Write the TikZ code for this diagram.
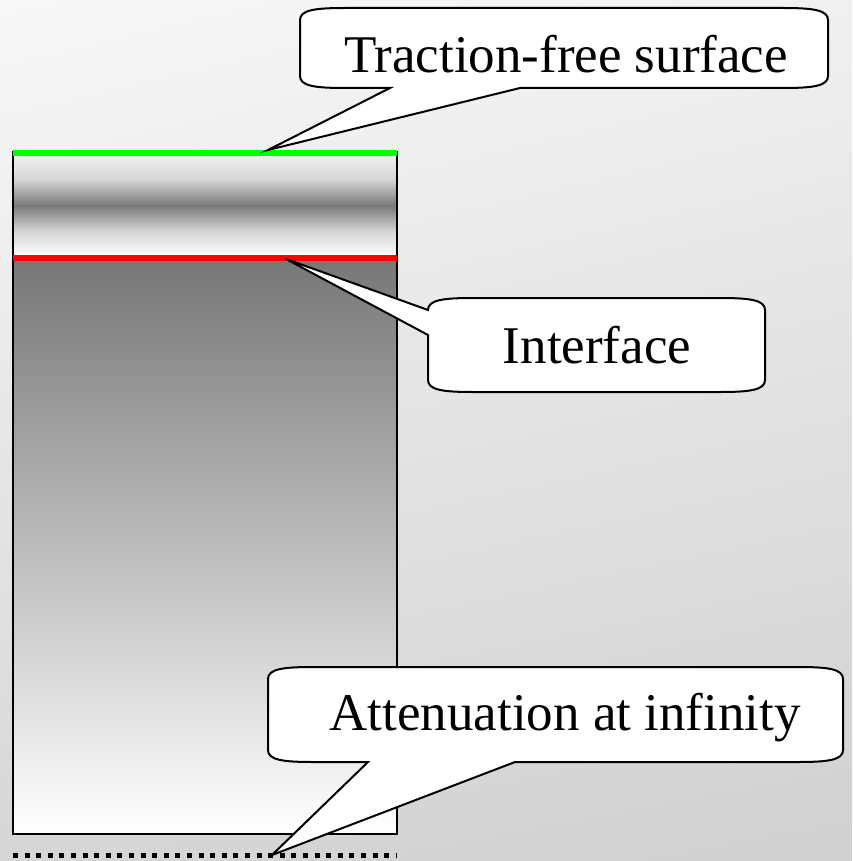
\documentclass[tikz,border=0pt]{standalone}
\usepackage{fontspec}
\setmainfont{Liberation Serif}
\usetikzlibrary{shadings}
\definecolor{bgA}{RGB}{248,248,248}
\definecolor{bgB}{RGB}{240,240,240}
\definecolor{bgC}{RGB}{214,214,214}
\definecolor{bgD}{RGB}{208,208,208}
\definecolor{midgray}{RGB}{119,119,119}
\definecolor{lgreen}{RGB}{0,255,0}
\definecolor{lred}{RGB}{255,0,0}
\tikzset{
  callout/.style={draw=black, fill=white, line width=2pt, line join=miter},
  label/.style={font=\fontsize{53}{60}\selectfont, anchor=base, inner sep=0pt},
  layerline/.style={line width=6pt},
}
\begin{document}
\begin{tikzpicture}[x=1pt,y=-1pt]
\useasboundingbox (0,0) rectangle (852,861);
% background
\shade[upper left=bgA, upper right=bgB, lower left=bgC, lower right=bgD] (0,0) rectangle (852,861);
% top layer
\shade[top color=white!95!black, bottom color=midgray, middle color=white!70!midgray] (13,152) rectangle (397,206);
\shade[top color=midgray, bottom color=white, middle color=white!70!midgray] (13,205) rectangle (397,258);
% substrate
\shade[top color=midgray, bottom color=white] (13,258) rectangle (397,834);
\draw[line width=1.5pt] (13,152) rectangle (397,834);
\coordinate (gL) at (13,153); \coordinate (gR) at (397,153);
\coordinate (rL) at (13,258); \coordinate (rR) at (397,258);
\coordinate (dL) at (13,855); \coordinate (dR) at (397,855);
\draw[layerline, lgreen] (gL) -- (gR);
\draw[layerline, lred] (rL) -- (rR);
\draw[line width=5pt, dash pattern=on 5pt off 6.6pt] (dL) -- (dR);
% callout 1
\coordinate (tip1) at (268,150);
\draw[callout] (300,20) .. controls (300,10) and (315,8) .. (345,8) -- (783,8)
  .. controls (813,8) and (828,10) .. (828,20) -- (828,76)
  .. controls (828,86) and (813,88) .. (783,88) -- (520,88) -- (tip1) -- (390,88)
  -- (345,88) .. controls (315,88) and (300,86) .. (300,76) -- cycle;
% callout 2
\coordinate (tip2) at (286,259);
\draw[callout] (428,310) .. controls (428,300) and (443,298) .. (473,298) -- (720,298)
  .. controls (750,298) and (765,300) .. (765,310) -- (765,380)
  .. controls (765,390) and (750,392) .. (720,392) -- (473,392)
  .. controls (443,392) and (428,390) .. (428,380) -- (428,335) -- (tip2) -- cycle;
% callout 3
\coordinate (tip3) at (272,855);
\draw[callout] (268,679) .. controls (268,669) and (283,667) .. (313,667) -- (798,667)
  .. controls (828,667) and (843,669) .. (843,679) -- (843,750)
  .. controls (843,760) and (828,762) .. (798,762) -- (515,762) -- (tip3) -- (368,762)
  -- (313,762) .. controls (283,762) and (268,760) .. (268,750) -- cycle;
% texts
\node[label] (t1) at (566,73) {Traction-free surface};
\node[label] (t2) at (597,363) {Interface};
\node[label] (t3) at (565,730) {Attenuation at infinity};
\end{tikzpicture}
\end{document}
